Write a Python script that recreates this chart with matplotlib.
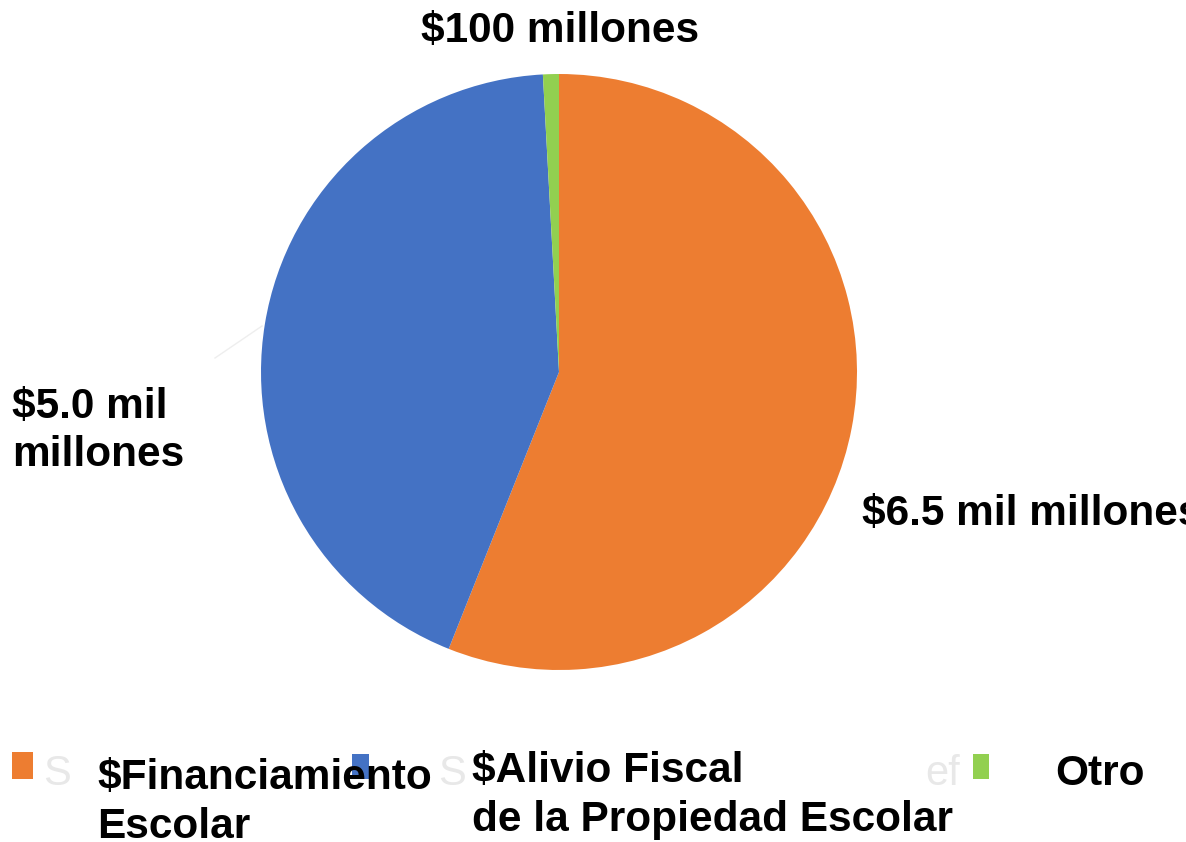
import matplotlib.pyplot as plt
from matplotlib.patches import Rectangle

# Data
categories = ['$Financiamiento\nEscolar', '$Alivio Fiscal\nde la Propiedad Escolar', 'Otro']
values = [6.5, 5.0, 0.1]  # miles de millones
value_labels = ['$6.5 mil millones', '$5.0 mil\nmillones', '$100 millones']
colors = ['#ED7D31', '#4472C4', '#92D050']

W, H = 1186, 842
plt.rcParams['font.family'] = ['Liberation Sans', 'DejaVu Sans']
fig = plt.figure(figsize=(W / 100, H / 100), dpi=100)


def fx(px):
    return px / W


def fy(py):
    return 1 - py / H


# Pie: centre (559, 372) px, radius 298 px
cx, cy, r = 559, 372, 298
ax = fig.add_axes([fx(cx - r), fy(cy + r), 2 * r / W, 2 * r / H])
ax.pie(values, colors=colors, startangle=90, counterclock=False,
       wedgeprops=dict(linewidth=0))
ax.set_xlim(-1, 1)
ax.set_ylim(-1, 1)
ax.set_aspect('auto')
ax.axis('off')

# faint leader line left over in the original
fig.add_artist(plt.Line2D([fx(215), fx(262)], [fy(358), fy(326)],
                          color='#eeeeee', lw=1))

# data labels (left x, first baseline y) in pixels
label_pos = [(862, 525), (12, 418), (421, 42)]
for text, (px, py) in zip(value_labels, label_pos):
    for i, line in enumerate(text.split('\n')):
        fig.text(fx(px), fy(py + i * 48), line, fontsize=30.5,
                 fontweight='bold', va='baseline', ha='left', color='black')

# legend (faint leftover glyphs behind it, as in the original)
ghosts = [(43, 785, 'S'), (438, 785, 'S'), (925, 785, 'ef')]
for gx, gy, gt in ghosts:
    fig.text(fx(gx), fy(gy), gt, fontsize=30, color='#e8e8e8',
             va='baseline', ha='left')

swatches = [(12, 752, 21, 27), (352, 754, 17, 25), (973, 754, 16, 25)]
text_pos = [(97, 789), (472, 782), (1055, 785)]
for cat, col, (sx, sy, sw, sh), (tx, ty) in zip(categories, colors, swatches, text_pos):
    fig.add_artist(Rectangle((fx(sx), fy(sy + sh)), sw / W, sh / H,
                             facecolor=col, edgecolor='none'))
    for i, line in enumerate(cat.split('\n')):
        fig.text(fx(tx), fy(ty + i * 49), line, fontsize=30.5,
                 fontweight='bold', va='baseline', ha='left', color='black')

fig.savefig('out.png', dpi=100)
